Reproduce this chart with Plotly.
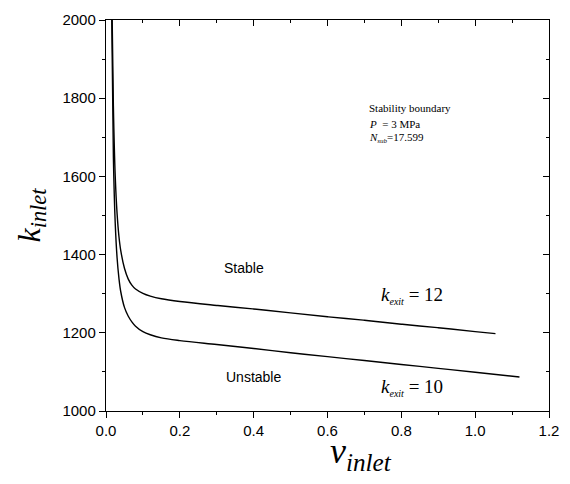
import plotly.graph_objects as go

# Stability boundary curves: inlet loss coefficient vs inlet velocity
v_k12 = [0.016, 0.02, 0.025, 0.03, 0.035, 0.04, 0.05, 0.06, 0.07, 0.08, 0.10,
         0.12, 0.15, 0.2, 0.3, 0.4, 0.5, 0.6, 0.7, 0.8, 0.9, 1.0, 1.055]
k_k12 = [2050, 1780, 1600, 1505, 1447, 1410, 1365, 1338, 1322, 1312, 1301,
         1294, 1287, 1280, 1270, 1261, 1251, 1241, 1232, 1222, 1213, 1203, 1198]

v_k10 = [0.015, 0.02, 0.025, 0.03, 0.035, 0.04, 0.05, 0.06, 0.07, 0.08, 0.10,
         0.12, 0.15, 0.2, 0.3, 0.4, 0.5, 0.6, 0.7, 0.8, 0.9, 1.0, 1.12]
k_k10 = [2050, 1650, 1480, 1392, 1340, 1305, 1265, 1243, 1228, 1217, 1203,
         1195, 1187, 1180, 1170, 1160, 1149, 1139, 1129, 1119, 1109, 1099, 1087]

x_ticks = [0.0, 0.2, 0.4, 0.6, 0.8, 1.0, 1.2]
x_tick_labels = ["0.0", "0.2", "0.4", "0.6", "0.8", "1.0", "1.2"]
y_ticks = [1000, 1200, 1400, 1600, 1800, 2000]
y_tick_labels = ["1000", "1200", "1400", "1600", "1800", "2000"]

X_RANGE = [0, 1.2]
Y_RANGE = [1000, 2000]

SANS = "Liberation Sans, Arial, sans-serif"
SERIF = "Liberation Serif, Times New Roman, serif"

fig = go.Figure()

line_style = dict(color="black", width=1.4)
fig.add_trace(go.Scatter(x=v_k12, y=k_k12, mode="lines", line=line_style,
                         line_shape="spline", showlegend=False))
fig.add_trace(go.Scatter(x=v_k10, y=k_k10, mode="lines", line=line_style,
                         line_shape="spline", showlegend=False))
# carrier trace for the top/right axes (inside ticks)
fig.add_trace(go.Scatter(x=[], y=[], xaxis="x2", yaxis="y2",
                         showlegend=False, hoverinfo="skip"))

axis_common = dict(showgrid=False, zeroline=False, linecolor="black",
                   linewidth=1.4, tickcolor="black", tickwidth=1.2)

fig.update_layout(
    width=570, height=484,
    margin=dict(l=106, r=11, t=16, b=73),
    paper_bgcolor="white", plot_bgcolor="white",
    font=dict(family=SANS, size=15, color="black"),
    xaxis=dict(range=X_RANGE, tickvals=x_ticks, ticktext=x_tick_labels,
               ticks="outside", ticklen=6, showline=True, mirror=True,
               minor=dict(ticks="outside", ticklen=3, dtick=0.1,
                          tickcolor="black", tickwidth=1.2),
               **axis_common),
    yaxis=dict(range=Y_RANGE, tickvals=y_ticks, ticktext=y_tick_labels,
               ticks="outside", ticklen=6, showline=True, mirror=True,
               minor=dict(ticks="outside", ticklen=3, dtick=100,
                          tickcolor="black", tickwidth=1.2),
               title=dict(text="<i>k</i><sub><i>inlet</i></sub>",
                          font=dict(family=SERIF, size=32), standoff=12),
               **axis_common),
    xaxis2=dict(range=X_RANGE, overlaying="x", side="top", anchor="y",
                tickvals=x_ticks, showticklabels=False, ticks="inside",
                ticklen=6, minor=dict(ticks="inside", ticklen=3, dtick=0.1,
                                      tickcolor="black", tickwidth=1.2),
                showline=False, showgrid=False, zeroline=False,
                tickcolor="black", tickwidth=1.2),
    yaxis2=dict(range=Y_RANGE, overlaying="y", side="right", anchor="x",
                tickvals=y_ticks, showticklabels=False, ticks="inside",
                ticklen=6, minor=dict(ticks="inside", ticklen=3, dtick=100,
                                      tickcolor="black", tickwidth=1.2),
                showline=False, showgrid=False, zeroline=False,
                tickcolor="black", tickwidth=1.2),
)

# x-axis title, placed right of centre under the tick labels
fig.add_annotation(xref="paper", yref="paper", x=0.50, y=-0.108,
                   xanchor="left", yanchor="middle", showarrow=False,
                   text="<i>v</i><sub><i>inlet</i></sub>",
                   font=dict(family=SERIF, size=36))

small = '<span style="font-size:10px">'
annotations = [
    dict(x=0.315, y=1365, text="Stable", font=dict(family=SANS, size=14)),
    dict(x=0.32, y=1086, text="Unstable", font=dict(family=SANS, size=14)),
    dict(x=0.739, y=1296,
         text="<i>k</i><sub>" + small + "<i>exit</i></span></sub> = 12",
         font=dict(family=SERIF, size=19)),
    dict(x=0.739, y=1061,
         text="<i>k</i><sub>" + small + "<i>exit</i></span></sub> = 10",
         font=dict(family=SERIF, size=19)),
    dict(x=0.707, y=1775, text="Stability boundary",
         font=dict(family=SERIF, size=11)),
    dict(x=0.707, y=1734, text="<i>P</i>  = 3 MPa",
         font=dict(family=SERIF, size=11)),
    dict(x=0.707, y=1697,
         text="<i>N</i><sub>" + '<span style="font-size:7px">' +
              "<i>sub</i></span></sub>=17.599",
         font=dict(family=SERIF, size=11)),
]
for a in annotations:
    fig.add_annotation(xref="x", yref="y", xanchor="left", yanchor="middle",
                       showarrow=False, **a)

fig.write_html("out.html")
